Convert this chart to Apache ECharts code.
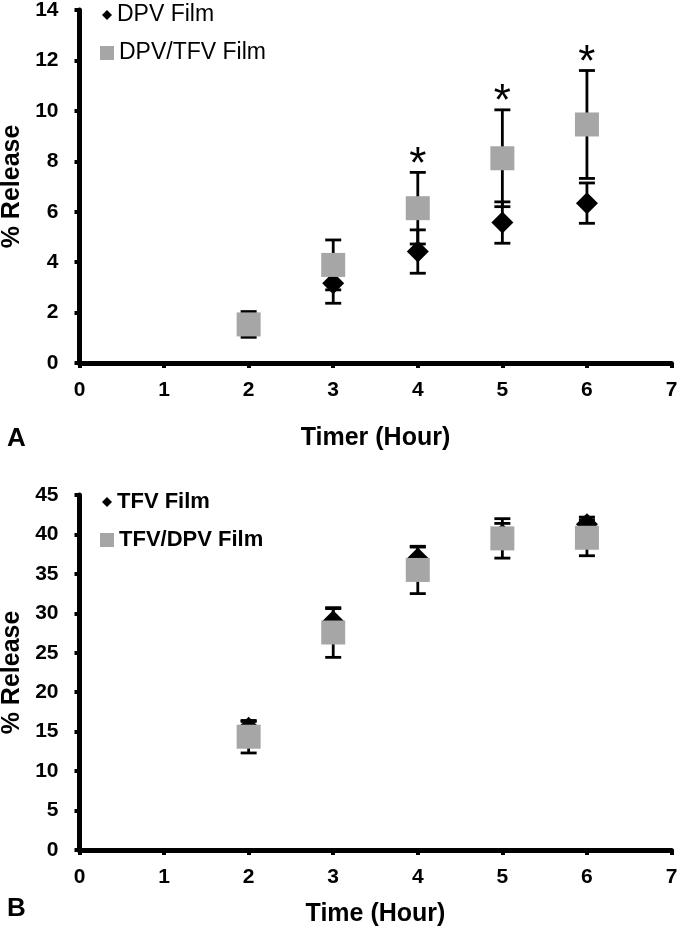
<!DOCTYPE html>
<html>
<head>
<meta charset="utf-8">
<script src="https://cdn.jsdelivr.net/npm/echarts@6/dist/echarts.min.js"></script>
<style>
  html, body { margin: 0; padding: 0; background: #fff; }
  #chart { width: 680px; height: 933px; }
</style>
</head>
<body>
<div id="chart"></div>
<script>
// time points (hours)
var hours = [2, 3, 4, 5, 6];

// panel A: DPV release
var dpvMean = [1.50, 3.16, 4.42, 5.57, 6.34];
var dpvSd = [0.30, 0.79, 0.86, 0.82, 0.80];
var dpvTfvMean = [1.53, 3.89, 6.14, 8.12, 9.46];
var dpvTfvSd = [0.51, 0.99, 1.42, 1.92, 2.14];
var dpvSig = [0, 0, 1, 1, 1];

// panel B: TFV release
var tfvMean = [15.5, 29.0, 36.95, 40.0, 41.3];
var tfvSd = [0.8, 1.6, 1.45, 1.4, 0.9];
var tfvDpvMean = [14.36, 27.57, 35.5, 39.5, 39.58];
var tfvDpvSd = [2.06, 3.15, 3.0, 2.5, 2.28];

var FONT = '"Liberation Sans", Arial, sans-serif';
var GRAY = '#a6a6a6';

function pts(means) {
  return hours.map(function (h, i) { return [h, means[i]]; });
}
function errs(means, sds, sig) {
  return hours.map(function (h, i) { return [h, means[i], sds[i], sig ? sig[i] : 0]; });
}

// error bars (plus optional asterisk above the upper cap)
function renderErr(params, api) {
  var x = api.value(0), m = api.value(1), sd = api.value(2), star = api.value(3);
  var top = api.coord([x, m + sd]);
  var bot = api.coord([x, m - sd]);
  var half = 8;
  var st = { stroke: '#000', lineWidth: 2.8 };
  var kids = [
    { type: 'line', shape: { x1: top[0], y1: top[1], x2: bot[0], y2: bot[1] }, style: st },
    { type: 'line', shape: { x1: top[0] - half, y1: top[1], x2: top[0] + half, y2: top[1] }, style: st },
    { type: 'line', shape: { x1: bot[0] - half, y1: bot[1], x2: bot[0] + half, y2: bot[1] }, style: st }
  ];
  if (star) {
    kids.push({
      type: 'text', x: top[0], y: top[1] + 15,
      style: { text: '*', fill: '#000', fontSize: 44, fontFamily: FONT, align: 'center', verticalAlign: 'bottom' }
    });
  }
  return { type: 'group', children: kids };
}

function xAx(idx, name, gap) {
  return {
    type: 'value', gridIndex: idx, min: 0, max: 7, interval: 1,
    name: name, nameLocation: 'middle', nameGap: gap,
    nameTextStyle: { fontSize: 25, fontWeight: 'bold', color: '#000', fontFamily: FONT },
    axisLine: { show: true, onZero: false, lineStyle: { color: '#000', width: 5 } },
    axisTick: { show: true, length: 5, lineStyle: { color: '#000', width: 4 } },
    axisLabel: { fontSize: 21, fontWeight: 'bold', color: '#000', fontFamily: FONT, margin: 17 },
    splitLine: { show: false }
  };
}
function yAx(idx, max, step) {
  return {
    type: 'value', gridIndex: idx, min: 0, max: max, interval: step,
    name: '% Release', nameLocation: 'middle', nameGap: 53, nameRotate: 90,
    nameTextStyle: { fontSize: 25, fontWeight: 'bold', color: '#000', fontFamily: FONT },
    axisLine: { show: true, lineStyle: { color: '#000', width: 5 } },
    axisTick: { show: true, length: 5, lineStyle: { color: '#000', width: 4 } },
    axisLabel: { fontSize: 21, fontWeight: 'bold', color: '#000', fontFamily: FONT, margin: 21 },
    splitLine: { show: false }
  };
}
function leg(name, icon, size, left, top, bold) {
  return {
    data: [{ name: name, icon: icon }], orient: 'vertical', left: left, top: top,
    itemWidth: size, itemHeight: size, padding: 0,
    textStyle: { fontSize: bold ? 22 : 23, fontWeight: bold ? 'bold' : 'normal', color: '#000', fontFamily: FONT, lineHeight: 26 },
    selectedMode: false
  };
}

var chart = echarts.init(document.getElementById('chart'));
chart.setOption({
  animation: false,
  backgroundColor: '#fff',
  title: [
    { text: 'A', left: 7, top: 426, padding: 0, textStyle: { fontSize: 26, fontWeight: 'bold', color: '#000', fontFamily: FONT } },
    { text: 'B', left: 7, top: 896, padding: 0, textStyle: { fontSize: 26, fontWeight: 'bold', color: '#000', fontFamily: FONT } }
  ],
  legend: [
    leg('DPV Film', 'diamond', 10, 102, 2, false),
    leg('DPV/TFV Film', 'rect', 14, 100, 40, false),
    leg('TFV Film', 'diamond', 10, 102, 489, true),
    leg('TFV/DPV Film', 'rect', 14, 100, 527, true)
  ],
  grid: [
    { left: 79.5, top: 10, width: 592, height: 353, containLabel: false, outerBoundsMode: 'none' },
    { left: 79.5, top: 495, width: 592, height: 355, containLabel: false, outerBoundsMode: 'none' }
  ],
  xAxis: [xAx(0, 'Timer (Hour)', 63), xAx(1, 'Time (Hour)', 52)],
  yAxis: [yAx(0, 14, 2), yAx(1, 45, 5)],
  series: [
    { type: 'custom', xAxisIndex: 0, yAxisIndex: 0, renderItem: renderErr, data: errs(dpvMean, dpvSd), z: 1 },
    { type: 'custom', xAxisIndex: 0, yAxisIndex: 0, renderItem: renderErr, data: errs(dpvTfvMean, dpvTfvSd, dpvSig), z: 1 },
    { name: 'DPV Film', type: 'scatter', xAxisIndex: 0, yAxisIndex: 0, symbol: 'diamond', symbolSize: 22,
      itemStyle: { color: '#000', opacity: 1 }, data: pts(dpvMean), z: 2 },
    { name: 'DPV/TFV Film', type: 'scatter', xAxisIndex: 0, yAxisIndex: 0, symbol: 'rect', symbolSize: 24,
      itemStyle: { color: GRAY, opacity: 1 }, data: pts(dpvTfvMean), z: 3 },

    { type: 'custom', xAxisIndex: 1, yAxisIndex: 1, renderItem: renderErr, data: errs(tfvMean, tfvSd), z: 1 },
    { type: 'custom', xAxisIndex: 1, yAxisIndex: 1, renderItem: renderErr, data: errs(tfvDpvMean, tfvDpvSd), z: 1 },
    { name: 'TFV Film', type: 'scatter', xAxisIndex: 1, yAxisIndex: 1, symbol: 'diamond', symbolSize: 22,
      itemStyle: { color: '#000', opacity: 1 }, data: pts(tfvMean), z: 2 },
    { name: 'TFV/DPV Film', type: 'scatter', xAxisIndex: 1, yAxisIndex: 1, symbol: 'rect', symbolSize: 24,
      itemStyle: { color: GRAY, opacity: 1 }, data: pts(tfvDpvMean), z: 3 }
  ]
});
</script>
</body>
</html>
